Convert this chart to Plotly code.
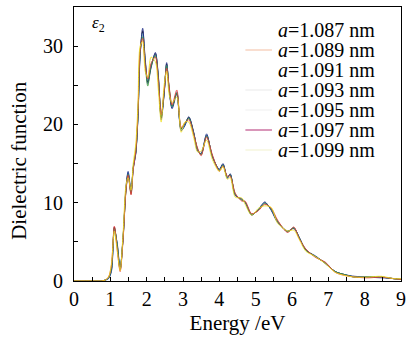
import plotly.graph_objects as go

energy = [0, 0.5, 0.75, 0.85, 0.95, 1.03, 1.11, 1.19, 1.27, 1.35, 1.43, 1.49, 1.57, 1.63, 1.70,
          1.76, 1.82, 1.89, 1.96, 2.03, 2.12, 2.24, 2.32, 2.40, 2.48, 2.55, 2.62, 2.70, 2.83, 2.95,
          3.05, 3.16, 3.30, 3.40, 3.50, 3.65, 3.81, 4.00, 4.10, 4.22, 4.30, 4.44, 4.62, 4.71, 4.89,
          5.08, 5.25, 5.43, 5.60, 5.88, 6.05, 6.20, 6.38, 6.65, 6.92, 7.19, 7.46, 7.73, 8.08, 8.46,
          8.80, 9.00]

eps_1087 = [0, 0, 0, 0.1, 0.4, 1.5, 6.9, 4.5, 1.4, 5.5, 11.7, 13.8, 11.3, 14.5, 16.4, 21, 29, 31.9, 28, 25.4,
            27.5, 29.0, 26, 20.9, 24, 27.7, 24.5, 22.2, 24.1, 19.4, 20.0, 20.9, 18.8, 16.8, 16.2, 18.6, 15.9,
            14.2, 14.9, 13.2, 13.6, 11.0, 10.4, 10.1, 8.5, 9.1, 10.0, 9.1, 7.6, 6.3, 6.8, 5.5, 4.0, 3.1, 2.3,
            1.2, 0.8, 0.5, 0.5, 0.5, 0.3, 0.2]
eps_1089 = [0, 0, 0, 0.1, 0.5, 2.0, 7.0, 4.0, 1.2, 5.2, 11.5, 13.5, 11.0, 14.2, 16.6, 21.5, 29.5, 31.0, 27.5, 25.8,
            27.8, 28.6, 25.6, 21.2, 24.3, 27.2, 24.8, 22.5, 24.4, 19.6, 20.2, 20.6, 18.6, 17.0, 16.0, 18.4, 16.1,
            14.0, 14.7, 13.4, 13.4, 11.2, 10.2, 10.2, 8.6, 9.0, 9.8, 9.3, 7.8, 6.2, 6.9, 5.4, 4.1, 3.0, 2.4,
            1.1, 0.7, 0.5, 0.4, 0.5, 0.3, 0.2]
eps_1091 = [0, 0, 0, 0.1, 0.3, 1.2, 6.5, 4.8, 1.6, 5.6, 12.0, 14.0, 11.5, 14.4, 16.2, 20.8, 28.8, 32.3, 28.3, 25.2,
            27.2, 29.2, 26.3, 20.6, 23.8, 27.9, 24.3, 22.0, 23.9, 19.2, 19.8, 21.0, 18.9, 16.6, 16.3, 18.8, 15.8,
            14.3, 15.0, 13.1, 13.7, 10.9, 10.5, 10.0, 8.4, 9.2, 10.1, 9.0, 7.5, 6.4, 6.7, 5.6, 3.9, 3.2, 2.2,
            1.2, 0.8, 0.6, 0.5, 0.4, 0.3, 0.2]
eps_1093 = [0, 0, 0, 0.1, 0.4, 1.6, 6.7, 4.6, 1.5, 5.4, 11.6, 13.6, 11.1, 14.6, 16.5, 21.2, 29.2, 31.2, 27.6, 24.9,
            27.4, 28.8, 25.8, 21.0, 24.1, 27.5, 24.6, 22.3, 24.0, 19.5, 20.1, 20.8, 18.7, 16.9, 16.1, 18.5, 16.0,
            14.1, 14.8, 13.3, 13.5, 11.1, 10.3, 10.1, 8.5, 9.1, 9.9, 9.2, 7.7, 6.3, 6.8, 5.5, 4.0, 3.1, 2.3,
            1.2, 0.8, 0.5, 0.5, 0.5, 0.3, 0.2]
eps_1095 = [0, 0, 0, 0.1, 0.5, 2.2, 6.4, 3.8, 1.3, 6.0, 12.2, 13.2, 11.6, 15.0, 17.5, 22.5, 30.0, 30.6, 26.8, 26.0,
            28.6, 28.0, 24.5, 20.3, 25.0, 26.8, 23.8, 22.8, 23.5, 19.0, 20.3, 20.3, 18.2, 16.5, 16.6, 18.0, 15.5,
            14.0, 14.6, 13.0, 13.2, 10.7, 10.6, 9.8, 8.4, 9.3, 9.6, 9.4, 7.4, 6.4, 6.5, 5.3, 3.8, 3.1, 2.2,
            1.1, 0.7, 0.5, 0.5, 0.6, 0.3, 0.3]
eps_1097 = [0, 0, 0, 0.1, 0.3, 1.3, 6.6, 4.7, 1.5, 5.5, 11.8, 13.9, 11.4, 14.3, 16.3, 20.9, 29.0, 31.6, 28.0, 25.6,
            27.6, 28.9, 26.1, 21.1, 24.2, 27.6, 24.7, 22.1, 24.2, 19.3, 19.9, 20.8, 18.8, 16.7, 16.2, 18.7, 15.9,
            14.2, 14.9, 13.2, 13.6, 11.0, 10.4, 10.1, 8.5, 9.1, 10.0, 9.1, 7.6, 6.3, 6.8, 5.5, 4.0, 3.1, 2.3,
            1.2, 0.8, 0.5, 0.5, 0.5, 0.3, 0.2]
eps_1099 = [0, 0, 0, 0.1, 0.4, 1.4, 6.8, 4.4, 1.4, 5.3, 11.6, 13.7, 11.2, 14.4, 16.4, 21.1, 29.3, 32.1, 28.4, 25.5,
            27.3, 29.1, 26.2, 20.8, 23.9, 27.8, 24.4, 22.2, 24.1, 19.4, 20.0, 20.9, 18.8, 16.8, 16.2, 18.6, 15.9,
            14.2, 14.9, 13.2, 13.6, 11.0, 10.4, 10.1, 8.5, 9.1, 10.0, 9.1, 7.6, 6.3, 6.8, 5.5, 4.0, 3.1, 2.3,
            1.2, 0.8, 0.5, 0.5, 0.5, 0.3, 0.2]

labels = ["1.087", "1.089", "1.091", "1.093", "1.095", "1.097", "1.099"]
series = [eps_1087, eps_1089, eps_1091, eps_1093, eps_1095, eps_1097, eps_1099]
line_colors = ["#000000", "#e8383d", "#1f2d8a", "#3a9a3a", "#f0e020", "#7fc8e8", "#888888"]
legend_colors = ["#ffffff", "#f5c8b0", "#ffffff", "#ececec", "#f2f2f2", "#c0508a", "#f3f3d6"]

FONT = "Liberation Serif"

fig = go.Figure()
order = [6, 0, 5, 2, 3, 1, 4]
for i in order:
    fig.add_trace(go.Scatter(x=energy, y=series[i], mode="lines", name="a=" + labels[i] + " nm",
                             line=dict(color=line_colors[i], width=1, shape="spline", smoothing=0.8),
                             opacity=0.85, showlegend=False))

# legend drawn as text + sample lines (layout decoration)
L, T, PW, PH = 74, 7, 332, 274
for i, (lab, lc) in enumerate(zip(labels, legend_colors)):
    yc = 1 - (30 + 20 * i - T) / PH
    fig.add_annotation(xref="paper", yref="paper", x=(279 - L) / PW, y=yc,
                       xanchor="left", yanchor="middle", showarrow=False,
                       text="<i>a</i>=" + lab + " nm", font=dict(family=FONT, size=20, color="#000"))
    fig.add_shape(type="line", xref="paper", yref="paper",
                  x0=(248 - L) / PW, x1=(275 - L) / PW, y0=yc, y1=yc,
                  line=dict(color=lc, width=1.2))

fig.add_annotation(xref="paper", yref="paper", x=(90 - L) / PW, y=1 - (24 - T) / PH,
                   xanchor="left", yanchor="middle", showarrow=False,
                   text="<i>ε</i><sub>2</sub>", font=dict(family=FONT, size=17, color="#000"))

# y-axis title as annotation so it can sit where the reference puts it
fig.add_annotation(xref="paper", yref="paper", x=(18 - L) / PW, y=1 - (160 - T) / PH,
                   xanchor="center", yanchor="middle", showarrow=False, textangle=-90,
                   text="Dielectric function", font=dict(family=FONT, size=21, color="#000"))

axis_common = dict(showline=True, linecolor="#000", linewidth=1, mirror=True,
                   ticks="inside", ticklen=4, tickcolor="#000", showgrid=False, zeroline=False,
                   tickfont=dict(family=FONT, size=20, color="#000"))

fig.update_xaxes(range=[0, 9], dtick=1, tick0=0,
                 minor=dict(dtick=0.5, ticks="inside", ticklen=4, tickcolor="#000", showgrid=False),
                 title=dict(text="Energy /eV", font=dict(family=FONT, size=21, color="#000"), standoff=6),
                 **axis_common)
fig.update_yaxes(range=[0, 35], dtick=10, tick0=0,
                 minor=dict(dtick=5, ticks="inside", ticklen=4, tickcolor="#000", showgrid=False),
                 ticklabelstandoff=6,
                 **axis_common)

fig.update_layout(width=412, height=342, margin=dict(l=74, r=6, t=7, b=61),
                  font=dict(family=FONT),
                  plot_bgcolor="#fff", paper_bgcolor="#fff", showlegend=False)

fig.write_html("out.html")
